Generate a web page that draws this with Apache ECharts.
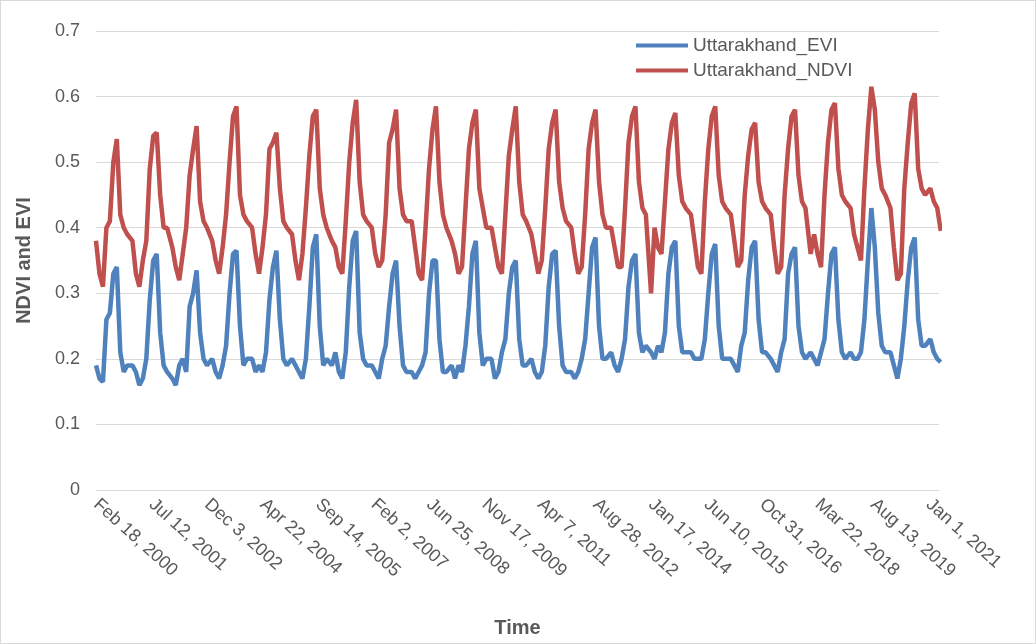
<!DOCTYPE html>
<html><head><meta charset="utf-8">
<script src="https://cdn.jsdelivr.net/npm/echarts@6/dist/echarts.min.js"></script>
<style>html,body{margin:0;padding:0;background:#fff}#c{width:1036px;height:644px;box-sizing:border-box;border:1px solid #d9d9d9}</style>
</head><body><div id="c"></div>
<script>
// composite slots within each year (16-day composite number, 0-based)
const slots = [1,3,5,7,9,11,13,15,17,19,21];
const years = [2000,2001,2002,2003,2004,2005,2006,2007,2008,2009,2010,2011,2012,2013,2014,2015,2016,2017,2018,2019,2020,2021];
const tickLabels = ["Feb 18, 2000","Jul 12, 2001","Dec 3, 2002","Apr 22, 2004","Sep 14, 2005","Feb 2, 2007","Jun 25, 2008","Nov 17, 2009","Apr 7, 2011","Aug 28, 2012","Jan 17, 2014","Jun 10, 2015","Oct 31, 2016","Mar 22, 2018","Aug 13, 2019","Jan 1, 2021"];
const evi = [
 [null,0.19,0.17,0.165,0.26,0.27,0.33,0.34,0.21,0.18,0.19],
 [0.19,0.18,0.16,0.17,0.20,0.29,0.35,0.36,0.24,0.19,0.18],
 [0.17,0.16,0.19,0.20,0.18,0.28,0.30,0.335,0.24,0.20,0.19],
 [0.20,0.18,0.17,0.19,0.22,0.30,0.36,0.365,0.25,0.19,0.20],
 [0.20,0.18,0.19,0.18,0.21,0.29,0.34,0.365,0.26,0.20,0.19],
 [0.20,0.19,0.18,0.17,0.20,0.28,0.37,0.39,0.25,0.19,0.20],
 [0.19,0.21,0.18,0.17,0.21,0.31,0.38,0.395,0.24,0.20,0.19],
 [0.19,0.18,0.17,0.20,0.22,0.28,0.33,0.35,0.25,0.19,0.18],
 [0.18,0.17,0.18,0.19,0.21,0.30,0.35,0.35,0.23,0.18,0.18],
 [0.19,0.17,0.19,0.18,0.22,0.28,0.36,0.38,0.24,0.19,0.20],
 [0.20,0.17,0.18,0.21,0.23,0.30,0.34,0.35,0.23,0.19,0.19],
 [0.20,0.18,0.17,0.18,0.22,0.31,0.36,0.365,0.25,0.19,0.18],
 [0.18,0.17,0.18,0.20,0.23,0.30,0.37,0.385,0.25,0.20,0.20],
 [0.21,0.19,0.18,0.20,0.23,0.31,0.35,0.36,0.24,0.21,0.22],
 [0.21,0.20,0.22,0.21,0.24,0.33,0.37,0.38,0.25,0.21,0.21],
 [0.21,0.20,0.20,0.20,0.23,0.30,0.36,0.375,0.25,0.20,0.20],
 [0.20,0.19,0.18,0.22,0.24,0.32,0.37,0.38,0.26,0.21,0.21],
 [0.20,0.19,0.18,0.21,0.23,0.33,0.36,0.37,0.25,0.21,0.20],
 [0.21,0.20,0.19,0.21,0.23,0.30,0.36,0.37,0.26,0.21,0.20],
 [0.21,0.20,0.20,0.21,0.26,0.35,0.43,0.37,0.27,0.22,0.21],
 [0.21,0.19,0.17,0.20,0.25,0.32,0.37,0.385,0.26,0.22,0.22],
 [0.23,0.21,0.20,0.195,null,null,null,null,null,null,null]
];
const ndvi = [
 [null,0.38,0.33,0.31,0.40,0.41,0.50,0.535,0.42,0.40,0.39],
 [0.38,0.33,0.31,0.35,0.38,0.49,0.54,0.545,0.45,0.40,0.40],
 [0.37,0.34,0.32,0.36,0.40,0.48,0.52,0.555,0.44,0.41,0.40],
 [0.38,0.35,0.33,0.37,0.42,0.50,0.57,0.585,0.45,0.42,0.41],
 [0.40,0.36,0.33,0.37,0.42,0.52,0.53,0.545,0.46,0.41,0.40],
 [0.39,0.35,0.32,0.36,0.43,0.51,0.57,0.58,0.46,0.42,0.40],
 [0.38,0.37,0.34,0.33,0.41,0.50,0.56,0.595,0.47,0.42,0.41],
 [0.40,0.36,0.34,0.35,0.42,0.53,0.55,0.58,0.46,0.42,0.41],
 [0.41,0.37,0.33,0.32,0.40,0.49,0.55,0.585,0.47,0.42,0.40],
 [0.38,0.36,0.33,0.34,0.43,0.52,0.56,0.58,0.46,0.43,0.40],
 [0.40,0.37,0.34,0.33,0.42,0.51,0.55,0.585,0.47,0.42,0.41],
 [0.39,0.36,0.33,0.35,0.43,0.52,0.56,0.58,0.47,0.43,0.41],
 [0.40,0.36,0.33,0.34,0.42,0.52,0.56,0.58,0.47,0.42,0.40],
 [0.40,0.37,0.34,0.34,0.43,0.53,0.57,0.585,0.47,0.43,0.42],
 [0.30,0.40,0.37,0.36,0.44,0.52,0.56,0.575,0.48,0.44,0.43],
 [0.42,0.38,0.34,0.33,0.44,0.52,0.57,0.585,0.48,0.44,0.43],
 [0.42,0.38,0.34,0.35,0.45,0.51,0.55,0.56,0.47,0.44,0.43],
 [0.42,0.37,0.33,0.34,0.45,0.52,0.57,0.58,0.48,0.44,0.43],
 [0.36,0.39,0.36,0.34,0.45,0.53,0.58,0.59,0.49,0.45,0.44],
 [0.43,0.39,0.37,0.35,0.46,0.55,0.615,0.58,0.50,0.46,0.45],
 [0.43,0.37,0.32,0.33,0.46,0.53,0.59,0.605,0.49,0.46,0.45],
 [0.46,0.44,0.43,0.395,null,null,null,null,null,null,null]
];
function build(arr){
  const out=[];
  years.forEach((y,i)=>{slots.forEach((k,j)=>{const v=arr[i][j]; if(v!==null) out.push([(y-2000)*23+k-3, v]);});});
  return out;
}
const chart = echarts.init(document.getElementById('c'));
const F = 'Liberation Sans Narrow, Liberation Sans, sans-serif';
chart.setOption({
  animation:false,
  textStyle:{fontFamily:F},
  grid:{left:95,right:96,top:30,bottom:152},
  legend:{top:30,left:630,orient:'vertical',itemGap:6,itemWidth:52,itemHeight:4,
    textStyle:{fontSize:19,color:'#595959',fontFamily:F},
    data:[{name:'Uttarakhand_EVI',icon:'rect'},{name:'Uttarakhand_NDVI',icon:'rect'}]},
  xAxis:{type:'value',min:0,max:486,interval:32,
    name:'Time',nameLocation:'middle',nameGap:128,
    nameTextStyle:{fontSize:20,fontWeight:'bold',color:'#595959'},
    axisLine:{show:true,lineStyle:{color:'#d9d9d9'}},axisTick:{show:false},splitLine:{show:false},
    axisLabel:{rotate:-42,fontSize:18,color:'#595959',margin:12,showMaxLabel:false,
      formatter:v=>tickLabels[Math.round(v/32)]||''}},
  yAxis:{type:'value',min:0,max:0.7,interval:0.1,
    name:'NDVI and EVI',nameLocation:'middle',nameGap:62,
    nameTextStyle:{fontSize:20,fontWeight:'bold',color:'#595959'},
    axisLine:{show:false},axisTick:{show:false},
    splitLine:{lineStyle:{color:'#d9d9d9'}},
    axisLabel:{fontSize:18,color:'#595959',margin:16,formatter:v=>v===0?'0':v.toFixed(1)}},
  series:[
    {name:'Uttarakhand_EVI',type:'line',data:build(evi),showSymbol:false,color:'#4f81bd',lineStyle:{width:4.5}},
    {name:'Uttarakhand_NDVI',type:'line',data:build(ndvi),showSymbol:false,color:'#c0504d',lineStyle:{width:4.5}}
  ]
});
</script></body></html>
